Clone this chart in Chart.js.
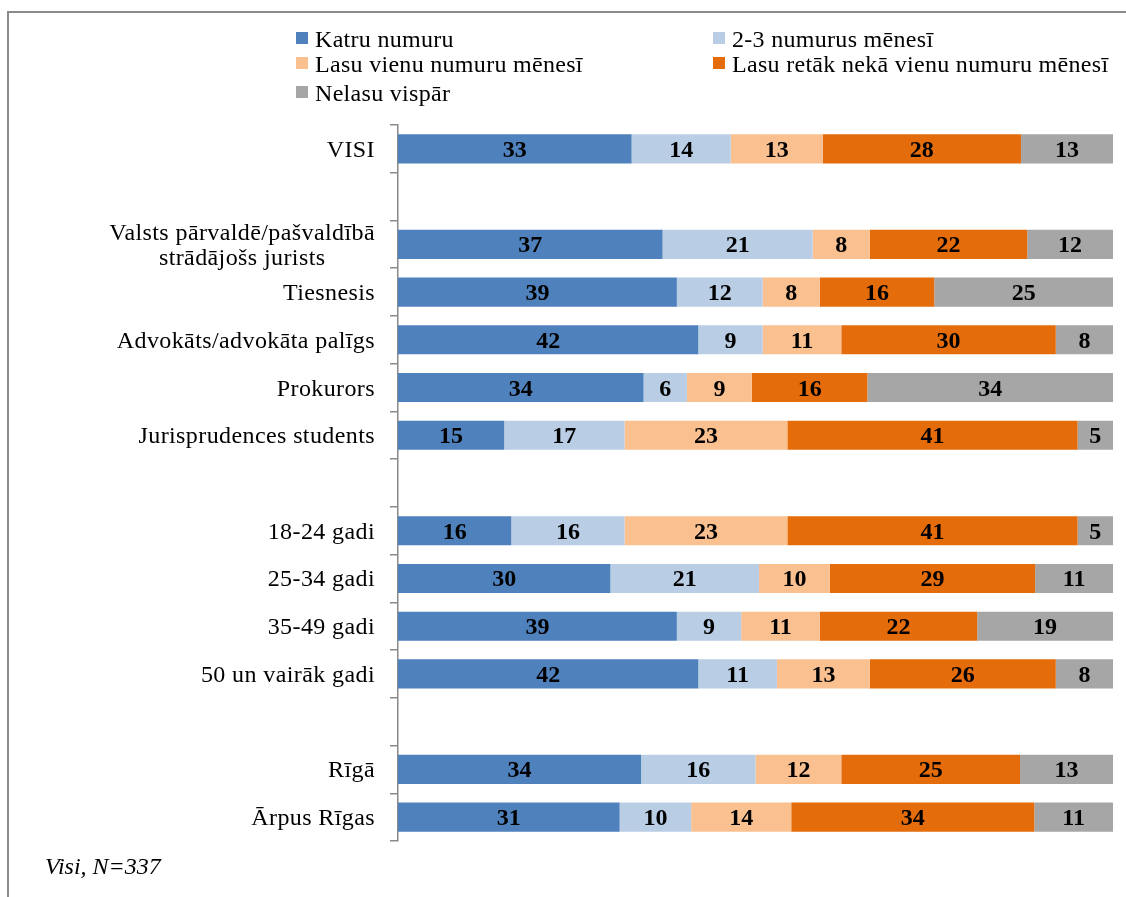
<!DOCTYPE html>
<html>
<head>
<meta charset="utf-8">
<script src="https://cdn.jsdelivr.net/npm/chart.js@4"></script>
<style>
  body { margin: 0; background: #fff; }
  #wrap { position: relative; width: 1126px; height: 897px; }
  #legend { position: absolute; left: 296px; top: 0; width: 830px;
    font-family: "Liberation Serif", "Times New Roman", serif; font-size: 24px;
    letter-spacing: 0.3px; color: #000; }
  #legend .item { position: absolute; white-space: nowrap; line-height: 24px; }
  #legend .box { position: absolute; left: 0; width: 12px; height: 12px; }
  #legend .txt { position: absolute; left: 19px; top: 0; }
</style>
</head>
<body>
<div id="wrap">
  <canvas id="chart" width="1126" height="897"></canvas>
  <div id="legend"></div>
</div>
<script>
// kategorijas (tukšās rindas = atstarpes starp grupām)
const categories = [
  'VISI', '',
  ['Valsts pārvaldē/pašvaldībā', 'strādājošs jurists'],
  'Tiesnesis', 'Advokāts/advokāta palīgs', 'Prokurors', 'Jurisprudences students', '',
  '18-24 gadi', '25-34 gadi', '35-49 gadi', '50 un vairāk gadi', '',
  'Rīgā', 'Ārpus Rīgas'
];
const seriesNames = [
  'Katru numuru', '2-3 numurus mēnesī', 'Lasu vienu numuru mēnesī',
  'Lasu retāk nekā vienu numuru mēnesī', 'Nelasu vispār'
];
const katru    = [33, null, 37, 39, 42, 34, 15, null, 16, 30, 39, 42, null, 34, 31];
const divTris  = [14, null, 21, 12,  9,  6, 17, null, 16, 21,  9, 11, null, 16, 10];
const vienu    = [13, null,  8,  8, 11,  9, 23, null, 23, 10, 11, 13, null, 12, 14];
const retak    = [28, null, 22, 16, 30, 16, 41, null, 41, 29, 22, 26, null, 25, 34];
const nelasu   = [13, null, 12, 25,  8, 34,  5, null,  5, 11, 19,  8, null, 13, 11];
const colors = ['#4F81BD', '#B9CDE5', '#FAC090', '#E46C0A', '#A6A6A6'];

const rawSeries = [katru, divTris, vienu, retak, nelasu];
// 100% sakrautā josla - katru rindu normalizē uz tās summu
const totals = categories.map((c, i) =>
  rawSeries.reduce((s, arr) => s + (arr[i] || 0), 0));

const datasets = rawSeries.map((arr, k) => ({
  label: seriesNames[k],
  data: arr.map((v, i) => (v == null ? null : (v / totals[i]) * 100)),
  raw: arr,
  backgroundColor: colors[k],
  borderWidth: 0,
  barPercentage: 0.61,
  categoryPercentage: 1.0,
}));

// leģenda divās kolonnās (x, teksta bāzes līnija)
const legendPos = [[0, 46], [417, 46], [0, 71], [417, 71], [0, 100]];
const legendEl = document.getElementById('legend');
seriesNames.forEach((name, k) => {
  const d = document.createElement('div');
  d.className = 'item';
  d.style.left = legendPos[k][0] + 'px';
  d.style.top = (legendPos[k][1] - 19) + 'px';
  d.innerHTML = '<span class="box" style="background:' + colors[k] +
    ';top:5px"></span><span class="txt">' + name + '</span>';
  legendEl.appendChild(d);
});

const SERIF = '"Liberation Serif", "Times New Roman", serif';

const decor = {
  id: 'decor',
  beforeDraw(chart) {
    const ctx = chart.ctx;
    ctx.save();
    // rāmis
    ctx.strokeStyle = '#8a8a8a';
    ctx.lineWidth = 2;
    ctx.beginPath();
    ctx.moveTo(8, 897);
    ctx.lineTo(8, 12);
    ctx.lineTo(1126, 12);
    ctx.stroke();
    // piezīme
    ctx.fillStyle = '#000';
    ctx.font = 'italic 24px ' + SERIF;
    ctx.textAlign = 'left';
    ctx.textBaseline = 'alphabetic';
    ctx.fillText('Visi, N=337', 45, 874);
    ctx.restore();
  },
  afterDatasetsDraw(chart) {
    const ctx = chart.ctx;
    const yScale = chart.scales.y;
    ctx.save();
    // y ass nosaukumi
    ctx.fillStyle = '#000';
    ctx.font = '24px ' + SERIF;
    ctx.letterSpacing = '0.4px';
    ctx.textBaseline = 'alphabetic';
    categories.forEach((c, i) => {
      const y = yScale.getPixelForTick(i);
      if (Array.isArray(c)) {
        ctx.textAlign = 'center';
        const w = Math.max(...c.map((t) => ctx.measureText(t).width));
        const cx = 375 - w / 2;
        c.forEach((t, j) => {
          ctx.fillText(t, cx, y + 8 + (j - (c.length - 1) / 2) * 25);
        });
      } else if (c) {
        ctx.textAlign = 'right';
        ctx.fillText(c, 375, y + 8);
      }
    });
    // vērtības joslās
    ctx.letterSpacing = '0px';
    ctx.font = 'bold 24px ' + SERIF;
    ctx.textAlign = 'center';
    chart.data.datasets.forEach((ds, k) => {
      const meta = chart.getDatasetMeta(k);
      meta.data.forEach((bar, i) => {
        const v = ds.raw[i];
        if (v == null) return;
        const p = bar.getProps(['x', 'y', 'base'], true);
        ctx.fillText(String(v), (p.x + p.base) / 2, p.y + 8);
      });
    });
    ctx.restore();
  },
};

new Chart(document.getElementById('chart'), {
  type: 'bar',
  data: { labels: categories, datasets: datasets },
  options: {
    indexAxis: 'y',
    responsive: false,
    animation: false,
    layout: { padding: { left: 0, right: 13, top: 125, bottom: 56 } },
    scales: {
      x: {
        stacked: true,
        min: 0,
        max: 100,
        display: false,
      },
      y: {
        stacked: true,
        afterFit(scale) { scale.width = 398; },
        ticks: { display: false },
        grid: {
          offset: true,
          drawOnChartArea: false,
          drawTicks: true,
          tickLength: 8,
          color: '#8a8a8a',
          lineWidth: 1.5,
        },
        border: { display: true, color: '#8a8a8a', width: 1.5 },
      },
    },
    plugins: {
      legend: { display: false },
      tooltip: { enabled: false },
    },
  },
  plugins: [decor],
});
</script>
</body>
</html>
